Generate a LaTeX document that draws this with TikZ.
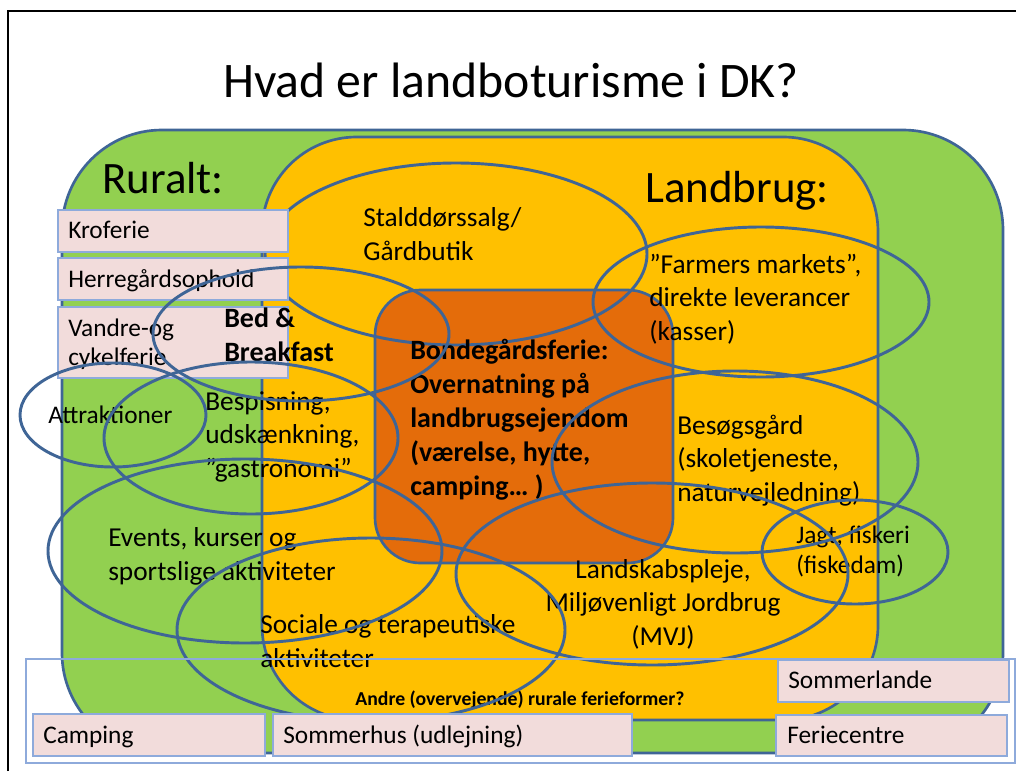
\documentclass[tikz,border=0pt]{standalone}
\usepackage{fontspec}
\setmainfont{Carlito}

\definecolor{rural}{HTML}{92D050}
\definecolor{farm}{HTML}{FFC000}
\definecolor{stay}{HTML}{E46C0A}
\definecolor{rim}{HTML}{3F6596}
\definecolor{tagfill}{HTML}{F2DCDB}
\definecolor{tagrim}{HTML}{8EAADB}

\begin{document}
\begin{tikzpicture}[x=0.75pt,y=-0.75pt,
    zone/.style={draw=rim, line width=2pt},
    ring/.style={draw=rim, line width=2.2pt},
    tag/.style={draw=tagrim, fill=tagfill, line width=1.1pt},
    big/.style={inner sep=0pt, anchor=base west, font=\fontsize{33.7}{40}\selectfont},
    lbl/.style={inner sep=0pt, anchor=base west, align=left, font=\fontsize{20.5}{25}\selectfont},
    boldlbl/.style={inner sep=0pt, anchor=base west, align=left, font=\fontsize{21}{25.5}\selectfont\bfseries},
    small/.style={inner sep=0pt, anchor=base west, align=left, font=\fontsize{19}{22.5}\selectfont}]
        \useasboundingbox (0,0) rectangle (1016,771);
        \fill[white] (0,0) rectangle (1016,771);
        \draw[line width=1.5pt] (8,771) -- (8,11) -- (1016,11);

        \node[inner sep=0pt, anchor=base, font=\fontsize{37.3}{44}\selectfont] (title) at (511,97) {Hvad er landboturisme i DK?};

        % Ruralt / Landbrug / Bondegaardsferie
        \draw[zone, fill=rural, rounded corners=75pt] (62,130) rectangle (1003,753);
        \draw[zone, fill=farm, rounded corners=71pt] (262,137) rectangle (878,720);
        \draw[zone, fill=stay, rounded corners=34pt] (375,290) rectangle (673,563);

        \draw[ring] (456,254) ellipse [x radius=191, y radius=91];

        % Ruralt boxes
        \draw[tag] (58,210) rectangle (288,252);
        \draw[tag] (58,258) rectangle (288,300);
        \draw[tag] (58,307) rectangle (288,378);
        \node[small] (kro) at (68,238) {Kroferie};
        \node[small] (herre) at (68,287) {Herregårdsophold};
        \node[small, font=\fontsize{19}{21.5}\selectfont] (vandre) at (68,365) {Vandre-og\\cykelferie};

        \node[big] (ruralt) at (102,193) {Ruralt:};
        \node[big] (landbrug) at (645,202) {Landbrug:};

        % multi-line texts sit on their last line
        \node[lbl] (stald) at (363,260) {Stalddørssalg/\\Gårdbutik};
        \node[lbl] (farmers) at (649,340) {”Farmers markets”,\\direkte leverancer\\(kasser)};
        \node[boldlbl] (bnb) at (224,361) {Bed \&\\Breakfast};
        \node[boldlbl] (bonde) at (410,495) {Bondegårdsferie:\\Overnatning på\\landbrugsejendom\\(værelse, hytte,\\camping… )};
        \node[lbl] (bespis) at (205,477) {Bespisning,\\udskænkning,\\”gastronomi”};
        \node[small] (attrak) at (48,423) {Attraktioner};
        \node[lbl] (events) at (108,580) {Events, kurser og\\sportslige aktiviteter};
        \node[lbl] (sociale) at (260,667) {Sociale og terapeutiske\\aktiviteter};
        \node[lbl] (besog) at (677,501) {Besøgsgård\\(skoletjeneste,\\naturvejledning)};
        \node[small] (jagt) at (796,573) {Jagt, fiskeri\\(fiskedam)};
        \node[lbl, anchor=base, align=center] (landskab) at (663,645) {Landskabspleje,\\Miljøvenligt Jordbrug\\(MVJ)};
        \node[inner sep=0pt, anchor=base, font=\fontsize{14.8}{18}\selectfont\bfseries] (andre) at (520,705) {Andre (overvejende) rurale ferieformer?};

        % overlapping activities
        \draw[ring] (301,334) ellipse [x radius=148, y radius=67];
        \draw[ring] (113,415) ellipse [x radius=93, y radius=52];
        \draw[ring] (251,438) ellipse [x radius=147, y radius=76];
        \draw[ring] (245,551) ellipse [x radius=197, y radius=92];
        \draw[ring] (371,630) ellipse [x radius=194, y radius=92];
        \draw[ring] (761,302) ellipse [x radius=168, y radius=75];
        \draw[ring] (735,462) ellipse [x radius=183, y radius=91];
        \draw[ring] (652,574) ellipse [x radius=196, y radius=91];
        \draw[ring] (855,552) ellipse [x radius=93, y radius=52];

        % other holiday forms
        \draw[draw=tagrim, line width=1.1pt] (26,659) rectangle (1015,763);
        \draw[tag] (33,714) rectangle (265,756);
        \draw[tag] (273,714) rectangle (632,756);
        \draw[tag] (778,660) rectangle (1009,702);
        \draw[tag] (776,715) rectangle (1007,756);
        \node[small] (camping) at (43,743) {Camping};
        \node[small] (sommerhus) at (283,743) {Sommerhus (udlejning)};
        \node[small] (sommerlande) at (788,688) {Sommerlande};
        \node[small] (feriecentre) at (787,743) {Feriecentre};
    \end{tikzpicture}
\end{document}
